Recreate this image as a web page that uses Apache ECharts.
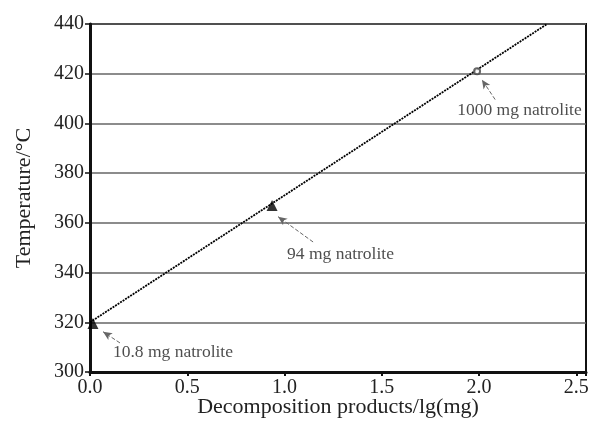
<!DOCTYPE html>
<html>
<head>
<meta charset="utf-8">
<script src="https://cdn.jsdelivr.net/npm/echarts@6/dist/echarts.min.js"></script>
<style>
  html, body { margin: 0; padding: 0; background: #fff; }
  #chart { width: 589px; height: 421px; }
</style>
</head>
<body>
<div id="chart"></div>
<script>
const sampleX = [0.015, 0.936, 1.99];
const sampleY = [319.5, 367, 421];
const sampleSymbol = ['triangle', 'triangle', 'emptyCircle'];

// fitted line end points
const fitX = [0, 2.35];
const fitY = [320, 440];

// annotations: text anchor (left edge) and arrow tail -> head
const noteText = ['10.8 mg natrolite', '94 mg natrolite', '1000 mg natrolite'];
const noteX = [0.118, 1.013, 1.888];
const noteY = [307.7, 347.3, 405.3];
const arrowTail = [[0.154, 311.7], [1.147, 352.3], [2.083, 409.6]];
const arrowHead = [[0.067, 316.2], [0.967, 362.5], [2.015, 417.6]];

const xTicks = [0, 0.5, 1, 1.5, 2, 2.5];
const yMin = 300, yMax = 440, yStep = 20;

const serif = 'Liberation Serif';

const myChart = echarts.init(document.getElementById('chart'));

const points = sampleX.map((x, i) => ({
  value: [x, sampleY[i]],
  symbol: sampleSymbol[i],
  symbolSize: sampleSymbol[i] === 'triangle' ? 11 : 6,
  itemStyle: sampleSymbol[i] === 'triangle'
    ? { color: '#000' }
    : { color: '#444', borderColor: '#444', borderWidth: 1 },
}));

const notes = noteX.map((x, i) => ({
  value: [x, noteY[i]],
  label: { formatter: noteText[i] },
}));

const arrows = arrowTail.map((t, i) => [{ coord: t }, { coord: arrowHead[i] }]);

const option = {
  animation: false,
  grid: {
    left: 90,
    top: 24,
    right: 3,
    bottom: 49,
    outerBoundsMode: 'none',
    show: true,
    borderColor: '#111',
    borderWidth: 2,
  },
  xAxis: {
    type: 'value',
    min: 0,
    max: 2.55,
    interval: 0.5,
    name: 'Decomposition products/lg(mg)',
    nameLocation: 'middle',
    nameGap: 24,
    nameMoveOverlap: false,
    nameTextStyle: { fontFamily: serif, fontSize: 22, color: '#222' },
    axisLine: { show: true, onZero: false, lineStyle: { color: '#111', width: 3 } },
    axisTick: { show: true, length: 4, lineStyle: { color: '#111', width: 2 } },
    axisLabel: {
      fontFamily: serif,
      fontSize: 20,
      color: '#222',
      margin: 6,
      formatter: (v) => (xTicks.some((t) => Math.abs(t - v) < 1e-6) ? v.toFixed(1) : ''),
    },
    splitLine: { show: false },
  },
  yAxis: {
    type: 'value',
    min: yMin,
    max: yMax,
    interval: yStep,
    name: 'Temperature/°C',
    nameLocation: 'middle',
    nameGap: 55,
    nameMoveOverlap: false,
    nameTextStyle: { fontFamily: serif, fontSize: 22, color: '#222' },
    axisLine: { show: true, lineStyle: { color: '#111', width: 3 } },
    axisTick: { show: true, length: 5, lineStyle: { color: '#111', width: 1.5 } },
    axisLabel: { fontFamily: serif, fontSize: 20, color: '#222', margin: 6 },
    splitLine: { show: true, lineStyle: { color: '#666', width: 1.5 } },
  },
  series: [
    {
      name: 'fit',
      type: 'line',
      data: fitX.map((x, i) => [x, fitY[i]]),
      showSymbol: false,
      lineStyle: { color: '#000', width: 1.8, type: [2, 1] },
      z: 3,
    },
    {
      name: 'samples',
      type: 'scatter',
      data: points,
      z: 4,
    },
    {
      name: 'notes',
      type: 'scatter',
      data: notes,
      symbolSize: 0,
      itemStyle: { color: 'transparent' },
      label: {
        show: true,
        position: 'right',
        distance: 0,
        fontFamily: serif,
        fontSize: 17.5,
        color: '#222',
      },
      markLine: {
        silent: true,
        symbol: ['none', 'arrow'],
        symbolSize: [6, 9],
        label: { show: false },
        lineStyle: { color: '#666', width: 1, type: 'dashed' },
        data: arrows,
      },
      z: 5,
    },
  ],
};

option && myChart.setOption(option);
</script>
</body>
</html>
